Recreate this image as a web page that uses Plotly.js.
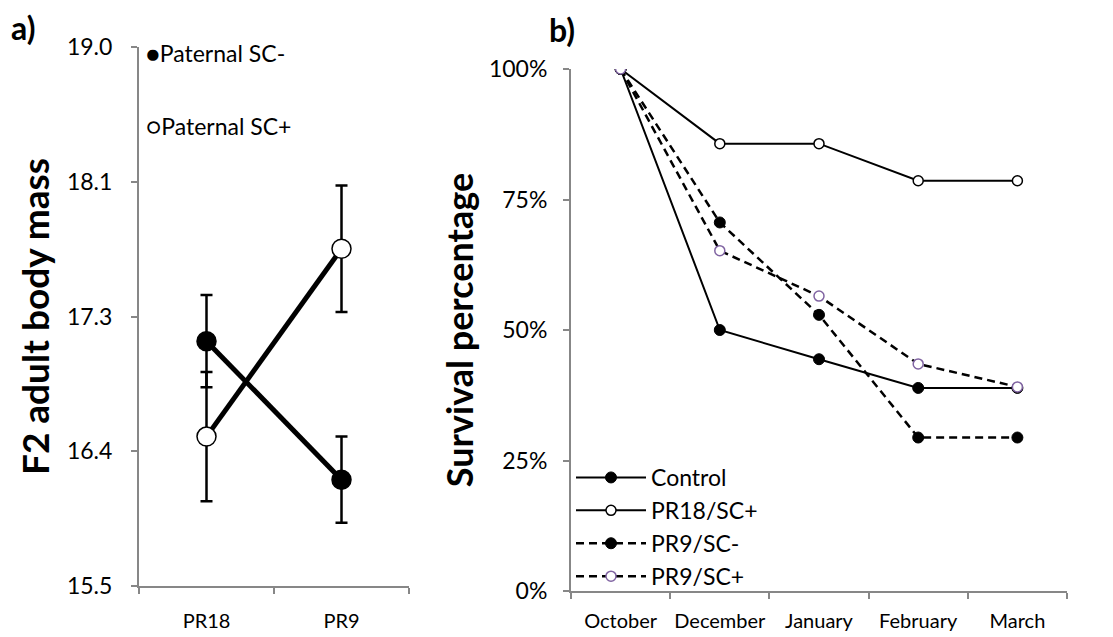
<!DOCTYPE html>
<html><head><meta charset="utf-8">
<script src="https://cdn.plot.ly/plotly-3.0.1.min.js"></script>
<style>html,body{margin:0;padding:0;background:#fff}#chart{width:1113px;height:637px}</style>
</head><body><div id="chart"></div>
<script>
// Panel a
const groupsA = ["PR18", "PR9"];
const scMinus = [17.09, 16.19];
const scMinusErr = [0.30, 0.28];
const scPlus = [16.47, 17.69];
const scPlusErr = [0.42, 0.41];
const tickValsA = [15.5, 16.375, 17.25, 18.125, 19.0];
const tickTextA = ["15.5", "16.4", "17.3", "18.1", "19.0"];

// Panel b
const months = ["October", "December", "January", "February", "March"];
const control = [1.0, 0.500, 0.444, 0.389, 0.389];
const pr18scPlus = [1.0, 0.857, 0.857, 0.786, 0.786];
const pr9scMinus = [1.0, 0.706, 0.529, 0.294, 0.294];
const pr9scPlus = [1.0, 0.652, 0.565, 0.435, 0.391];
const tickValsB = [0, 0.25, 0.5, 0.75, 1];

const FONT = "Lato, 'Open Sans', sans-serif";
const AXC = "#878787";
const FS = 23;
const FSX = 20;

const traces = [
  {x: groupsA, y: scMinus, xaxis: "x", yaxis: "y", type: "scatter", mode: "lines+markers",
   showlegend: false, name: "Paternal SC-",
   line: {color: "#000", width: 5},
   marker: {color: "#000", size: 19, symbol: "circle", line: {color: "#000", width: 1.5}},
   error_y: {type: "data", array: scMinusErr, visible: true, color: "#000", thickness: 2.5, width: 6}},
  {x: groupsA, y: scPlus, xaxis: "x", yaxis: "y", type: "scatter", mode: "lines+markers",
   showlegend: false, name: "Paternal SC+",
   line: {color: "#000", width: 5},
   marker: {color: "#fff", size: 19, symbol: "circle", line: {color: "#000", width: 1.5}},
   error_y: {type: "data", array: scPlusErr, visible: true, color: "#000", thickness: 2.5, width: 6}},
  {x: months, y: control, xaxis: "x2", yaxis: "y2", type: "scatter", mode: "lines+markers",
   name: "Control", legendgroup: "g1",
   line: {color: "#000", width: 2},
   marker: {color: "#000", size: 11, line: {color: "#000", width: 1}}},
  {x: months, y: pr18scPlus, xaxis: "x2", yaxis: "y2", type: "scatter", mode: "lines+markers",
   name: "PR18/SC+", legendgroup: "g2",
   line: {color: "#000", width: 2},
   marker: {color: "#fff", size: 10, line: {color: "#000", width: 1.5}}},
  {x: months, y: pr9scMinus, xaxis: "x2", yaxis: "y2", type: "scatter", mode: "lines+markers",
   name: "PR9/SC-", legendgroup: "g3",
   line: {color: "#000", width: 2.5, dash: "8px,5px"},
   marker: {color: "#000", size: 11, line: {color: "#000", width: 1}}},
  {x: months, y: pr9scPlus, xaxis: "x2", yaxis: "y2", type: "scatter", mode: "lines+markers",
   name: "PR9/SC+", legendgroup: "g4",
   line: {color: "#000", width: 2.5, dash: "8px,5px"},
   marker: {color: "#fff", size: 10, line: {color: "#8064A2", width: 1.5}}}
];

const W = 1113, H = 637;
const axBase = {showline: true, linecolor: AXC, linewidth: 2, ticks: "outside", ticklen: 6,
  tickcolor: AXC, tickwidth: 2, showgrid: false, zeroline: false, automargin: false,
  tickfont: {size: FS, family: FONT, color: "#000"}};
const layout = {
  width: W, height: H,
  margin: {l: 0, r: 0, t: 0, b: 0},
  paper_bgcolor: "#fff", plot_bgcolor: "#fff",
  font: {family: FONT, color: "#000", size: FS},
  xaxis: Object.assign({}, axBase, {domain: [139 / W, 409 / W], range: [-0.5, 1.5], type: "category",
    anchor: "y", tickson: "boundaries", tickangle: 0, ticklabelstandoff: 16,
    tickfont: {size: FSX, family: FONT, color: "#000"}}),
  yaxis: Object.assign({}, axBase, {domain: [(H - 586) / H, (H - 47) / H], range: [15.5, 19.0],
    anchor: "x", tickvals: tickValsA, ticktext: tickTextA, ticklabelstandoff: 14,
    title: {text: "<b>F2 adult body mass</b>", font: {size: 37, family: FONT}, standoff: 6}}),
  xaxis2: Object.assign({}, axBase, {domain: [571 / W, 1067 / W], range: [-0.5, 4.5], type: "category",
    anchor: "y2", tickson: "boundaries", tickangle: 0, ticklabelstandoff: 11,
    tickfont: {size: FSX, family: FONT, color: "#000"}}),
  yaxis2: Object.assign({}, axBase, {domain: [(H - 591) / H, (H - 69) / H], range: [0, 1],
    anchor: "x2", tickvals: tickValsB, tickformat: ".0%", ticklabelstandoff: 11,
    title: {text: "<b>Survival percentage</b>", font: {size: 36, family: FONT}, standoff: 4}}),
  showlegend: true,
  legend: {x: 571 / W, y: (H - 456) / H, xanchor: "left", yanchor: "top",
    bgcolor: "rgba(0,0,0,0)", font: {size: FS, family: FONT}, itemwidth: 70,
    tracegroupgap: 8, traceorder: "normal"},
  annotations: [
    {text: "<b>a)</b>", xref: "paper", yref: "paper", x: 9 / W, y: (H - 28) / H,
     xanchor: "left", yanchor: "middle", showarrow: false, font: {size: 32, family: FONT}},
    {text: "<b>b)</b>", xref: "paper", yref: "paper", x: 547 / W, y: (H - 30) / H,
     xanchor: "left", yanchor: "middle", showarrow: false, font: {size: 32, family: FONT}},
    {text: "●Paternal SC-", xref: "paper", yref: "paper", x: 144 / W, y: (H - 53) / H,
     xanchor: "left", yanchor: "middle", showarrow: false, font: {size: FS, family: FONT}},
    {text: "○Paternal SC+", xref: "paper", yref: "paper", x: 144 / W, y: (H - 126) / H,
     xanchor: "left", yanchor: "middle", showarrow: false, font: {size: FS, family: FONT}}
  ]
};

Plotly.newPlot("chart", traces, layout, {displayModeBar: false, staticPlot: true});
</script>
</body></html>
